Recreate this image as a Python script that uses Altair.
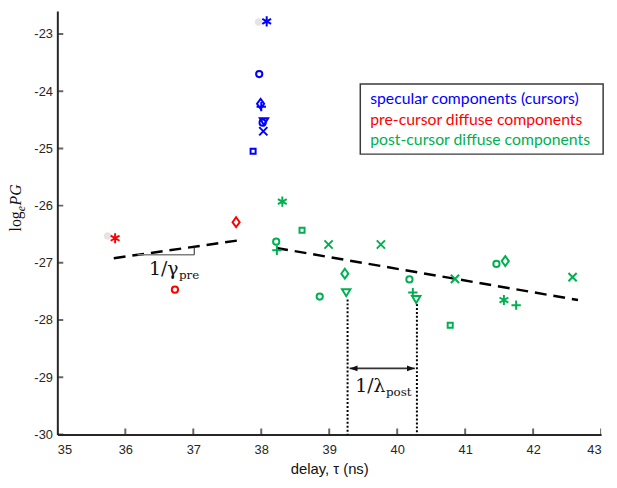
import altair as alt
import pandas as pd

# ---------------- data ----------------
spec_x = [38.08, 37.97, 37.99, 38.00, 38.04, 38.02, 38.03, 37.88]
spec_y = [-22.78, -23.70, -24.22, -24.27, -24.53, -24.55, -24.70, -25.05]
spec_m = ["asterisk", "circle", "diamond", "plus", "triangle", "circle", "x", "square"]

pre_x = [35.85, 37.63, 36.73]
pre_y = [-26.57, -26.29, -27.47]
pre_m = ["asterisk", "diamond", "circle"]

post_x = [38.31, 38.60, 38.22, 38.23, 38.99, 39.76, 39.23, 38.86, 39.25, 40.18,
          40.23, 40.28, 40.85, 40.78, 41.46, 41.59, 41.57, 41.75, 42.58]
post_y = [-25.93, -26.43, -26.63, -26.78, -26.68, -26.68, -27.19, -27.59, -27.52, -27.29,
          -27.52, -27.64, -27.28, -28.09, -27.02, -26.97, -27.65, -27.74, -27.25]
post_m = ["asterisk", "square", "circle", "plus", "x", "x", "diamond", "circle", "triangle", "circle",
          "plus", "triangle", "x", "square", "circle", "diamond", "asterisk", "plus", "x"]

ghost_x = [37.96, 35.74]
ghost_y = [-22.79, -26.53]

pre_fit_x = [35.83, 37.71]
pre_fit_y = [-26.92, -26.60]
post_fit_x = [38.22, 42.66]
post_fit_y = [-26.74, -27.65]

dot_x = [39.27, 40.29]
dot_top = [-27.64, -27.72]

x_ticks = [35, 36, 37, 38, 39, 40, 41, 42, 43]
y_ticks = [-30, -29, -28, -27, -26, -25, -24, -23]

groups = ["specular", "pre", "post"]
group_colors = ["#0000FF", "#FF0000", "#00B050"]
legend_lines = ["specular components (cursors)", "pre-cursor diffuse components",
                "post-cursor diffuse components"]

# ---------------- styles ----------------
marker_names = ["circle", "square", "diamond", "triangle", "plus", "x", "asterisk"]
marker_paths = [
    "circle",
    "square",
    "M0,-1L0.72,0L0,1L-0.72,0Z",
    "M-1,-0.8L1,-0.8L0,0.85Z",
    "M-1,0L1,0M0,-1L0,1",
    "M-1,-1L1,1M-1,1L1,-1",
    "M0,-1L0,1M-0.87,-0.5L0.87,0.5M-0.87,0.5L0.87,-0.5",
]
marker_sizes = [40, 26, 100, 72, 90, 69, 105]
size_of = dict(zip(marker_names, marker_sizes))

xs = alt.Scale(domain=[35, 43], nice=False, zero=False)
ys = alt.Scale(domain=[-30, -22.6], nice=False, zero=False)

all_m = spec_m + pre_m + post_m
pts = pd.DataFrame({
    "x": spec_x + pre_x + post_x,
    "y": spec_y + pre_y + post_y,
    "marker": all_m,
    "sz": [size_of[m] for m in all_m],
    "group": [groups[0]] * len(spec_x) + [groups[1]] * len(pre_x) + [groups[2]] * len(post_x),
})

axis_col = "#262626"

base_x = alt.X("x:Q", scale=xs,
               axis=alt.Axis(values=x_ticks, tickSize=0, grid=False, domainColor=axis_col,
                             domainWidth=2, labelFont="Liberation Sans", labelFontSize=13,
                             labelColor=axis_col, labelPadding=9, labelExpr="datum.value + ''",
                             title="delay, τ (ns)", titleFont="Liberation Sans", titleFontSize=15,
                             titleFontWeight="normal", titleColor="#111111", titlePadding=6))
base_y = alt.Y("y:Q", scale=ys,
               axis=alt.Axis(values=y_ticks, tickSize=0, grid=False, domainColor=axis_col,
                             domainWidth=2, labelFont="Liberation Sans", labelFontSize=13,
                             labelColor=axis_col, labelPadding=5, labelExpr="datum.value + ''",
                             title=None))

# faint grey markers
ghost = alt.Chart(pd.DataFrame({"x": ghost_x, "y": ghost_y})).mark_point(
    filled=True, color="#e4e4e4", size=56, shape="circle", opacity=1
).encode(x=base_x, y=base_y)

points = alt.Chart(pts).mark_point(filled=False, strokeWidth=2, opacity=1).encode(
    x=alt.X("x:Q", scale=xs),
    y=alt.Y("y:Q", scale=ys),
    shape=alt.Shape("marker:N", scale=alt.Scale(domain=marker_names, range=marker_paths), legend=None),
    size=alt.Size("sz:Q", scale=None),
    color=alt.Color("group:N", scale=alt.Scale(domain=groups, range=group_colors), legend=None),
)

fits = pd.DataFrame({
    "x": pre_fit_x + post_fit_x,
    "y": pre_fit_y + post_fit_y,
    "seg": ["pre", "pre", "post", "post"],
})
fit_lines = alt.Chart(fits).mark_line(color="black", strokeWidth=2.5, strokeDash=[12, 7]).encode(
    x=alt.X("x:Q", scale=xs), y=alt.Y("y:Q", scale=ys), detail="seg:N")

# slope triangle for 1/gamma_pre
tri_h = alt.Chart(pd.DataFrame({"x": [36.18], "x2": [37.014], "y": [-26.86]})).mark_rule(
    color="#7f7f7f", strokeWidth=1.5).encode(x=alt.X("x:Q", scale=xs), x2="x2:Q", y=alt.Y("y:Q", scale=ys))
tri_v = alt.Chart(pd.DataFrame({"x": [37.014], "y": [-26.86], "y2": [-26.717]})).mark_rule(
    color="#222222", strokeWidth=1).encode(x=alt.X("x:Q", scale=xs), y=alt.Y("y:Q", scale=ys), y2="y2:Q")

# dotted verticals
dots = alt.Chart(pd.DataFrame({"x": dot_x, "y": dot_top, "y2": [-30, -30]})).mark_rule(
    color="black", strokeWidth=2, strokeDash=[2, 2]).encode(
    x=alt.X("x:Q", scale=xs), y=alt.Y("y:Q", scale=ys), y2="y2:Q")

# double arrow
arrow_y = -28.845
arrow_line = alt.Chart(pd.DataFrame({"x": [39.30], "x2": [40.26], "y": [arrow_y]})).mark_rule(
    color="#333333", strokeWidth=2).encode(x=alt.X("x:Q", scale=xs), x2="x2:Q", y=alt.Y("y:Q", scale=ys))
head_l = alt.Chart(pd.DataFrame({"x": [39.30], "y": [arrow_y]})).mark_point(
    shape="M0,0L2,-0.75L2,0.75Z", filled=True, color="#111111", size=64, opacity=1).encode(
    x=alt.X("x:Q", scale=xs), y=alt.Y("y:Q", scale=ys))
head_r = alt.Chart(pd.DataFrame({"x": [40.26], "y": [arrow_y]})).mark_point(
    shape="M0,0L-2,-0.75L-2,0.75Z", filled=True, color="#111111", size=64, opacity=1).encode(
    x=alt.X("x:Q", scale=xs), y=alt.Y("y:Q", scale=ys))

def txt(x, y, text, **kw):
    return alt.Chart(pd.DataFrame({"x": [x], "y": [y]})).mark_text(text=text, **kw).encode(
        x=alt.X("x:Q", scale=xs), y=alt.Y("y:Q", scale=ys))

gamma_main = txt(36.35, -27.22, "1/γ", font="DejaVu Serif", fontSize=19, align="left",
                 baseline="alphabetic", color="#111111")
gamma_sub = txt(36.79, -27.29, "pre", font="DejaVu Serif", fontSize=12, align="left",
                baseline="alphabetic", color="#111111")
lam_main = txt(39.383, -29.259, "1/λ", font="DejaVu Serif", fontSize=19, align="left",
               baseline="alphabetic", color="#111111")
lam_sub = txt(39.835, -29.33, "post", font="DejaVu Serif", fontSize=12, align="left",
              baseline="alphabetic", color="#111111")

# y axis title log_e PG (rotated)
yt_x, yt_y = 34.46, -26.10
yt_log = txt(yt_x, yt_y, "log", font="Liberation Serif", fontSize=16, align="right",
             baseline="alphabetic", angle=270, color="#111111")
yt_e = txt(yt_x, yt_y, "e", font="Liberation Serif", fontSize=12, fontStyle="italic", align="left",
           baseline="alphabetic", angle=270, dy=4, color="#111111")
yt_pg = txt(yt_x, yt_y, "PG", font="Liberation Serif", fontSize=16, fontStyle="italic", align="left",
            baseline="alphabetic", angle=270, dx=6, color="#111111")

# legend box
box = alt.Chart(pd.DataFrame({"x": [39.457], "x2": [43.03], "y": [-23.876], "y2": [-25.10]})).mark_rect(
    fill="white", stroke="#3a3a3a", strokeWidth=1.5).encode(
    x=alt.X("x:Q", scale=xs), x2="x2:Q", y=alt.Y("y:Q", scale=ys), y2="y2:Q")
leg_df = pd.DataFrame({"x": [39.603] * 3, "y": [-24.135, -24.497, -24.86],
                       "t": legend_lines, "group": groups})
leg_text = alt.Chart(leg_df).mark_text(font="Lato", fontSize=16, align="left", baseline="middle").encode(
    x=alt.X("x:Q", scale=xs), y=alt.Y("y:Q", scale=ys), text="t:N",
    color=alt.Color("group:N", scale=alt.Scale(domain=groups, range=group_colors), legend=None))

# inward ticks (clipped to plot area)
xt = alt.Chart(pd.DataFrame({"x": x_ticks})).mark_tick(
    orient="vertical", size=12, thickness=2, color=axis_col, clip=True).encode(
    x=alt.X("x:Q", scale=xs), y=alt.datum(-30, scale=ys))
yt = alt.Chart(pd.DataFrame({"y": y_ticks})).mark_tick(
    orient="horizontal", size=12, thickness=2, color=axis_col, clip=True).encode(
    y=alt.Y("y:Q", scale=ys), x=alt.datum(35, scale=xs))

chart = alt.layer(
    ghost, fit_lines, tri_h, tri_v, dots, arrow_line, head_l, head_r, xt, yt, points,
    gamma_main, gamma_sub, lam_main, lam_sub, yt_log, yt_e, yt_pg, box, leg_text
).properties(
    width=551, height=429,
    autosize=alt.AutoSizeParams(type="none"),
    padding={"left": 50, "top": 0, "right": 8, "bottom": 43},
).configure(background="white", view=alt.ViewConfig(stroke=None))

chart.save("out.html", embed_options={"renderer": "svg", "actions": False})
